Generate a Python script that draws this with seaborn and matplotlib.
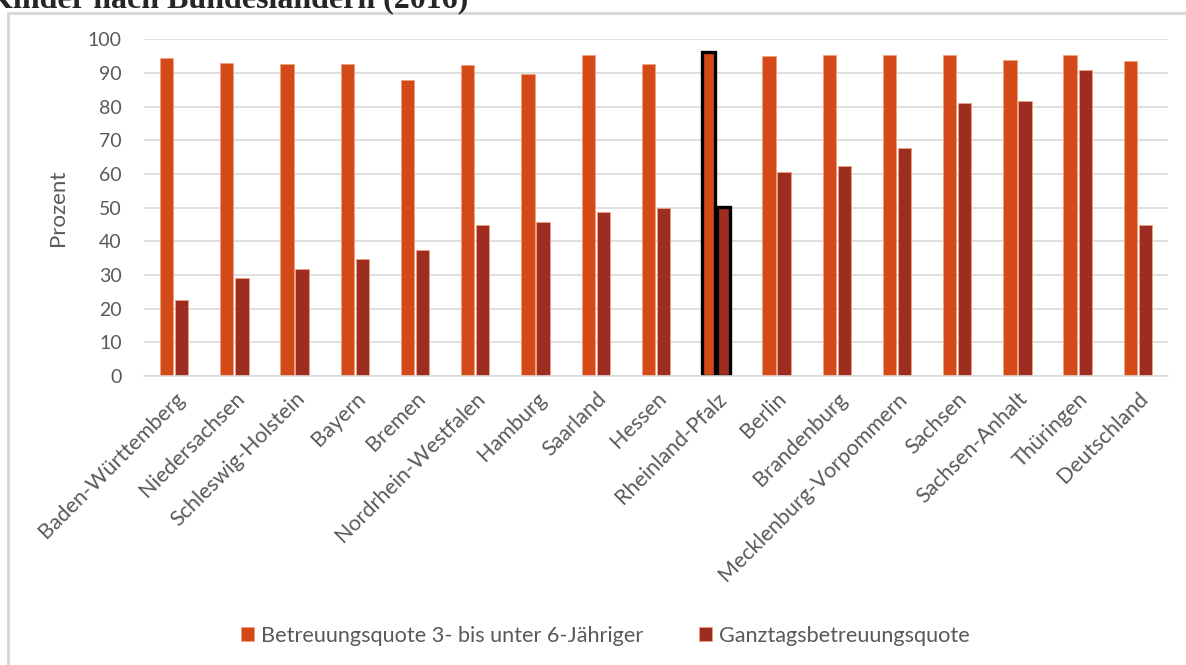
import numpy as np
import pandas as pd
import matplotlib
matplotlib.use("Agg")
import matplotlib.pyplot as plt
from matplotlib.patches import Rectangle
import seaborn as sns

laender = ["Baden-Württemberg", "Niedersachsen", "Schleswig-Holstein", "Bayern",
           "Bremen", "Nordrhein-Westfalen", "Hamburg", "Saarland", "Hessen",
           "Rheinland-Pfalz", "Berlin", "Brandenburg", "Mecklenburg-Vorpommern",
           "Sachsen", "Sachsen-Anhalt", "Thüringen", "Deutschland"]
betreuung = [94.5, 93.1, 92.7, 92.7, 87.8, 92.3, 89.7, 95.3, 92.7,
             96.3, 94.9, 95.3, 95.3, 95.3, 93.8, 95.3, 93.5]
ganztag = [22.5, 29.2, 31.8, 34.7, 37.4, 44.8, 45.6, 48.6, 49.8,
           50.3, 60.5, 62.5, 67.7, 81.1, 81.6, 90.8, 44.8]
serien = ["Betreuungsquote 3- bis unter 6-Jähriger", "Ganztagsbetreuungsquote"]
highlight = "Rheinland-Pfalz"

ORANGE = "#D34A18"
DUNKELROT = "#9C2D20"
GRAU = "#595959"

df = pd.DataFrame({
    "Land": laender * 2,
    "Wert": betreuung + ganztag,
    "Serie": [serien[0]] * len(laender) + [serien[1]] * len(laender),
})

sns.set_theme(style="white")
plt.rcParams["font.family"] = ["Lato", "DejaVu Sans"]

fig = plt.figure(figsize=(11.86, 6.65), dpi=100)
ax = fig.add_axes([144 / 1186, 1 - 376 / 665, 1024 / 1186, 336.7 / 665])

sns.barplot(data=df, x="Land", y="Wert", hue="Serie", order=laender,
            hue_order=serien, palette=[ORANGE, DUNKELROT], width=0.5,
            gap=0.12, saturation=1, edgecolor="#F0A080", linewidth=0.6,
            ax=ax, legend=True)

# Rheinland-Pfalz hervorheben
idx = laender.index(highlight)
for cont in ax.containers:
    bar = cont.patches[idx]
    bar.set_edgecolor("black")
    bar.set_linewidth(2.4)

ax.set_ylim(0, 100)
ax.set_xlim(-0.5, len(laender) - 0.5)
ax.set_yticks(range(0, 101, 10))
ax.yaxis.grid(True, color="#D9D9D9", linewidth=1.2)
ax.set_axisbelow(True)
for s in ["top", "right", "left"]:
    ax.spines[s].set_visible(False)
ax.spines["bottom"].set_color("#D9D9D9")
ax.spines["bottom"].set_linewidth(1.2)
ax.tick_params(axis="y", colors=GRAU, labelsize=14, length=0, pad=16)
ax.tick_params(axis="x", colors=GRAU, labelsize=15.5, length=0, pad=9)
plt.setp(ax.get_xticklabels(), rotation=45, ha="right", rotation_mode="anchor")
ax.set_xlabel("")
ax.set_ylabel("Prozent", color=GRAU, fontsize=16, labelpad=14)

handles, labels = ax.get_legend_handles_labels()
ax.legend_.remove()
fig.legend(handles, labels, loc="center", bbox_to_anchor=(0.5105, 1 - 636 / 665),
           ncol=2, frameon=False, fontsize=15.6, labelcolor=GRAU,
           handlelength=0.6, handleheight=0.6, handletextpad=0.3,
           columnspacing=2.6)

# Rahmen des Diagrammbereichs
fig.patches.append(Rectangle((8 / 1186, -0.05), 1.2, 1 - 13 / 665 + 0.05,
                             transform=fig.transFigure, fill=False,
                             edgecolor="#D9D9D9", linewidth=2.2))

fig.text(-0.010, 1 - 7 / 665, "Kinder nach Bundesländern (2016)", ha="left",
         va="baseline", fontsize=23, fontweight="bold",
         family=["Liberation Serif", "DejaVu Serif"])

fig.savefig("out.png", dpi=100)
